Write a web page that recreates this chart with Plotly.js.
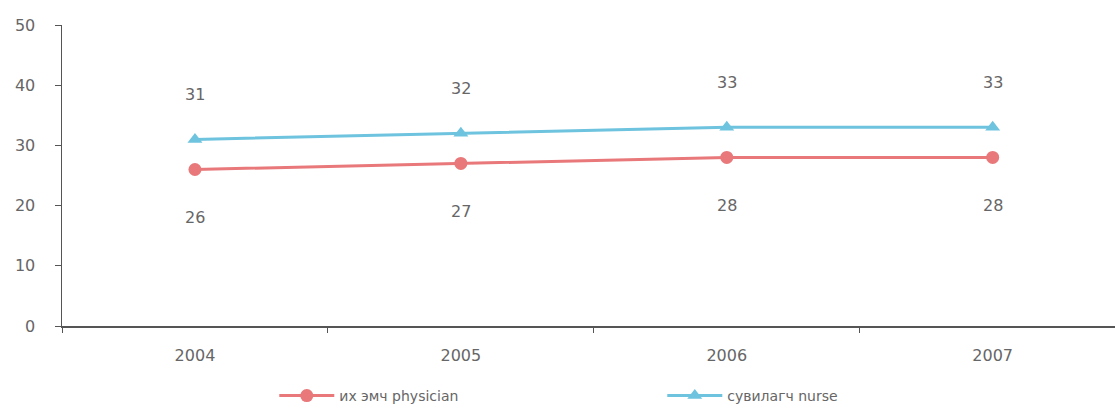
<!DOCTYPE html>
<html>
<head>
<meta charset="utf-8">
<script src="https://cdn.plot.ly/plotly-3.0.1.min.js"></script>
<style>html,body{margin:0;padding:0;background:#fff;}#chart{width:1115px;height:412px;}</style>
</head>
<body>
<div id="chart"></div>
<script>
var years = ['2004', '2005', '2006', '2007'];
var physician = [26, 27, 28, 28];
var nurse = [31, 32, 33, 33];
var physicianName = 'их эмч physician';
var nurseName = 'сувилагч nurse';

var redColor = '#E8787A';
var blueColor = '#6EC3DE';
var textColor = '#666666';
var fontFam = 'DejaVu Sans, sans-serif';

var traces = [
  {
    x: years, y: physician, name: physicianName, type: 'scatter', mode: 'lines+markers',
    line: {color: redColor, width: 3},
    marker: {symbol: 'circle', size: 13, color: redColor}
  },
  {
    x: years, y: nurse, name: nurseName, type: 'scatter', mode: 'lines+markers',
    line: {color: blueColor, width: 3},
    marker: {symbol: 'triangle-up', size: 13, color: blueColor}
  }
];

var annotations = [];
years.forEach(function (yr, i) {
  annotations.push({x: i, y: physician[i], xref: 'x', yref: 'y', text: String(physician[i]), showarrow: false,
    yshift: -48, font: {family: fontFam, size: 16, color: textColor}});
  annotations.push({x: i, y: nurse[i], xref: 'x', yref: 'y', text: String(nurse[i]), showarrow: false,
    yshift: 45, font: {family: fontFam, size: 16, color: textColor}});
});

var layout = {
  width: 1115, height: 412,
  margin: {l: 62, r: 0, t: 25, b: 86},
  paper_bgcolor: '#fff', plot_bgcolor: '#fff',
  font: {family: fontFam, size: 15, color: textColor},
  showlegend: true,
  legend: {orientation: 'h', xref: 'container', x: 0.246, xanchor: 'left',
    yref: 'container', y: -0.01, yanchor: 'bottom', itemwidth: 55,
    entrywidth: 318, entrywidthmode: 'pixels', font: {family: fontFam, size: 14, color: textColor}},
  xaxis: {
    type: 'category', range: [-0.5, 3.46], showgrid: false, zeroline: false,
    showline: true, linecolor: '#555', linewidth: 1.5,
    ticks: 'outside', tickson: 'boundaries', ticklen: 5, tickcolor: '#555',
    ticklabelstandoff: 14,
    tickfont: {family: fontFam, size: 16, color: textColor}
  },
  yaxis: {
    range: [0, 50], dtick: 10, showgrid: false, zeroline: false,
    showline: true, linecolor: '#555', linewidth: 1.5,
    ticks: 'outside', ticklen: 6, tickcolor: '#555',
    ticklabelstandoff: 16,
    tickfont: {family: fontFam, size: 16, color: textColor}
  },
  annotations: annotations
};

Plotly.newPlot('chart', traces, layout, {displayModeBar: false, staticPlot: true});
</script>
</body>
</html>
